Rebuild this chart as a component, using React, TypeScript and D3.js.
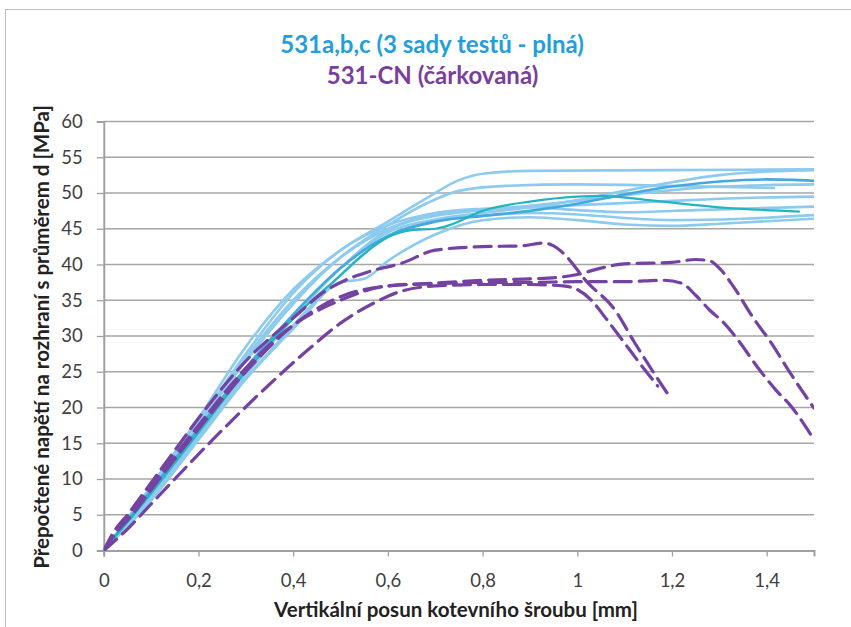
import React, { useEffect, useRef } from "react";
import * as d3 from "d3";

type Pt = [number, number];

// ---- Data (x: mm, y: MPa) ----
const xTicks = [0, 0.2, 0.4, 0.6, 0.8, 1, 1.2, 1.4];
const xTickLabels = ["0", "0,2", "0,4", "0,6", "0,8", "1", "1,2", "1,4"];
const yTicks = [0, 5, 10, 15, 20, 25, 30, 35, 40, 45, 50, 55, 60];

const solidA: Pt[] = [[0,0],[0.05,4],[0.1,9],[0.2,18.5],[0.3,28.5],[0.4,36.5],[0.5,42],[0.6,46],[0.68,49.2],[0.75,51.8],[0.8,52.7],[0.9,53.1],[1.2,53.2],[1.5,53.3]];
const solidB: Pt[] = [[0,0],[0.1,8.5],[0.2,17.5],[0.3,26.5],[0.4,34.5],[0.5,41],[0.6,45.5],[0.68,48.5],[0.75,50.3],[0.85,51],[1.0,51.2],[1.2,51],[1.418,50.7]];
const solidC: Pt[] = [[0,0],[0.1,7.5],[0.2,16],[0.3,24.5],[0.4,32.5],[0.5,39.5],[0.6,44.8],[0.7,46.8],[0.8,47.6],[0.9,48.2],[1.0,48.9],[1.1,49.7],[1.2,50.4],[1.3,50.9],[1.5,51.2]];
const solidD: Pt[] = [[0,0],[0.1,8],[0.2,17],[0.3,25.5],[0.4,33],[0.5,39.5],[0.6,44.5],[0.7,46.3],[0.8,47.2],[0.9,48],[1.0,49],[1.1,50.3],[1.2,51.5],[1.3,52.5],[1.4,53],[1.5,53.2]];
const solidE: Pt[] = [[0,0],[0.1,9],[0.2,18],[0.3,27],[0.4,35],[0.5,41],[0.6,45],[0.7,47],[0.8,47.6],[0.9,48],[1.0,48.3],[1.2,48.9],[1.35,49.3],[1.5,49.5]];
const solidF: Pt[] = [[0,0],[0.1,8.5],[0.2,18],[0.3,27.5],[0.4,36],[0.5,42],[0.6,45.5],[0.7,47.2],[0.8,47.8],[0.9,48],[1.0,47.6],[1.1,47.3],[1.25,47.6],[1.5,48.1]];
const solidG: Pt[] = [[0,0],[0.1,7],[0.2,15.5],[0.3,24],[0.4,31.5],[0.5,38.5],[0.6,44],[0.7,46],[0.8,46.8],[0.9,47.2],[1.0,47],[1.1,46.5],[1.2,46.2],[1.35,46.4],[1.5,46.9]];
const solidH: Pt[] = [[0,0],[0.1,7.5],[0.2,16],[0.3,24],[0.4,31],[0.5,37.5],[0.55,38],[0.6,40.5],[0.7,44.2],[0.8,46.2],[0.9,46.6],[1.0,46.2],[1.1,45.6],[1.2,45.4],[1.3,45.7],[1.5,46.4]];
const solidDark: Pt[] = [[0,0],[0.1,8.5],[0.2,17],[0.3,25.5],[0.4,33],[0.5,39.5],[0.6,44],[0.7,46],[0.8,46.8],[0.9,47.5],[1.0,48.5],[1.1,49.8],[1.2,50.9],[1.3,51.6],[1.4,51.9],[1.5,51.7]];
const solidTeal: Pt[] = [[0,0],[0.1,8],[0.2,16.5],[0.3,25],[0.4,32.5],[0.5,38.5],[0.55,41.5],[0.6,43.8],[0.65,44.8],[0.7,45],[0.73,45.5],[0.8,47.5],[0.9,48.8],[1.0,49.5],[1.05,49.6],[1.15,49],[1.3,48],[1.47,47.4]];

const dashed1: Pt[] = [[0,0],[0.02,2.5],[0.05,5],[0.1,9.5],[0.15,14],[0.2,18.5],[0.3,26.5],[0.4,32.5],[0.47,36.4],[0.51,37.8],[0.56,39],[0.63,40.2],[0.7,42],[0.8,42.5],[0.88,42.6],[0.93,43],[0.95,42.6],[0.97,41.6],[1.02,37.6],[1.08,33.6],[1.12,29.2],[1.16,25],[1.19,22]];
const dashed2: Pt[] = [[0,0],[0.02,2],[0.06,5],[0.1,8.5],[0.2,17],[0.3,25],[0.4,31.5],[0.5,35.5],[0.6,37],[0.7,37.4],[0.8,37.8],[0.9,38],[0.96,38.2],[1.0,38.6],[1.05,39.5],[1.1,40.1],[1.2,40.3],[1.25,40.7],[1.28,40.5],[1.3,39.5],[1.33,36.9],[1.37,32.7],[1.41,29],[1.45,24.8],[1.5,19.9]];
const dashed3: Pt[] = [[0,0],[0.03,3],[0.1,9],[0.2,17.5],[0.3,25.5],[0.4,31.5],[0.5,35],[0.6,37],[0.7,37.3],[0.8,37.5],[0.9,37.5],[1.0,37.6],[1.1,37.6],[1.18,37.8],[1.22,37.4],[1.25,35.7],[1.28,33.6],[1.31,31.8],[1.34,29.4],[1.38,25.7],[1.42,22.4],[1.45,20.3],[1.5,15.5]];
const dashed4: Pt[] = [[0,0],[0.05,3],[0.1,6.5],[0.15,10],[0.23,15.5],[0.33,22],[0.43,28],[0.5,31.8],[0.57,34.6],[0.625,36.2],[0.7,37],[0.8,37.2],[0.9,37.2],[0.97,37],[1.0,36.5],[1.03,35],[1.06,32.5],[1.1,29],[1.14,25.5],[1.17,23]];

const lightSeries = [solidA, solidB, solidC, solidD, solidE, solidF, solidG, solidH];
const dashedSeries = [dashed1, dashed2, dashed3, dashed4];

const title1 = "531a,b,c (3 sady testů - plná)";
const title2 = "531-CN (čárkovaná)";
const yLabel = "Přepočtené napětí na rozhraní s průměrem d [MPa]";
const xLabel = "Vertikální posun kotevního šroubu [mm]";

const W = 851, H = 627;
const M = { left: 103.8, right: 814, top: 121.5, bottom: 550.5 };
const FONT = "Lato, 'Open Sans', sans-serif";

export default function App() {
  const ref = useRef<SVGSVGElement>(null);
  useEffect(() => {
    const svg = d3.select(ref.current);
    svg.selectAll("*").remove();
    const x = d3.scaleLinear().domain([0, 1.5]).range([M.left, M.right]);
    const y = d3.scaleLinear().domain([0, 60]).range([M.bottom, M.top]);

    svg.append("rect").attr("x", 0).attr("y", 0).attr("width", W).attr("height", H).attr("fill", "#fff");
    svg.append("rect").attr("x", 5.5).attr("y", 9.5).attr("width", 900).attr("height", 700)
      .attr("fill", "none").attr("stroke", "#bfbfbf").attr("stroke-width", 1);

    // gridlines
    svg.append("g").selectAll("line").data(yTicks.filter(t => t > 0)).join("line")
      .attr("x1", M.left).attr("x2", M.right)
      .attr("y1", d => y(d)).attr("y2", d => y(d))
      .attr("stroke", "#a6a6a6").attr("stroke-width", 1.3);

    // axes
    const yAxis = svg.append("g").attr("transform", `translate(${M.left},0)`)
      .call(d3.axisLeft(y).tickValues(yTicks).tickSize(7).tickPadding(14).tickFormat(d => String(d)));
    yAxis.select(".domain").attr("stroke", "#a0a0a0").attr("stroke-width", 2);
    yAxis.selectAll(".tick line").attr("stroke", "#a0a0a0").attr("stroke-width", 1.3);
    yAxis.selectAll("text").attr("fill", "#404040").attr("font-size", 18.5).attr("font-family", FONT);

    const xAxis = svg.append("g").attr("transform", `translate(0,${M.bottom})`)
      .call(d3.axisBottom(x).tickValues(xTicks).tickSize(6)
        .tickFormat((d, i) => xTickLabels[i]));
    xAxis.select(".domain").attr("stroke", "#a0a0a0").attr("stroke-width", 2);
    xAxis.selectAll(".tick line").attr("stroke", "#a0a0a0").attr("stroke-width", 1.3);
    xAxis.selectAll("text").attr("fill", "#404040").attr("font-size", 18.5).attr("font-family", FONT)
      .attr("y", 36).attr("dy", 0);

    const clip = svg.append("clipPath").attr("id", "plotclip");
    clip.append("rect").attr("x", M.left).attr("y", M.top - 10).attr("width", M.right - M.left).attr("height", M.bottom - M.top + 10);

    const line = d3.line<Pt>().x(d => x(d[0])).y(d => y(d[1])).curve(d3.curveMonotoneX);
    const g = svg.append("g").attr("clip-path", "url(#plotclip)");

    g.selectAll("path.light").data(lightSeries).join("path").attr("class", "light")
      .attr("d", d => line(d)).attr("fill", "none")
      .attr("stroke", "#8ccbee").attr("stroke-width", 2.6).attr("stroke-linejoin", "round");
    g.append("path").attr("d", line(solidDark)).attr("fill", "none")
      .attr("stroke", "#45a9de").attr("stroke-width", 2.6);
    g.append("path").attr("d", line(solidTeal)).attr("fill", "none")
      .attr("stroke", "#22b5c0").attr("stroke-width", 2.2);

    g.selectAll("path.dash").data(dashedSeries).join("path").attr("class", "dash")
      .attr("d", d => line(d)).attr("fill", "none")
      .attr("stroke", "#7442a2").attr("stroke-width", 3.2)
      .attr("stroke-dasharray", "17,8").attr("stroke-linecap", "round");

    // titles
    svg.append("text").attr("x", 432).attr("y", 53).attr("text-anchor", "middle")
      .attr("font-family", FONT).attr("font-weight", "bold").attr("font-size", 24)
      .attr("fill", "#1fa0dc").text(title1);
    svg.append("text").attr("x", 432.5).attr("y", 84).attr("text-anchor", "middle")
      .attr("font-family", FONT).attr("font-weight", "bold").attr("font-size", 24)
      .attr("fill", "#7a3e9e").text(title2);

    svg.append("text").attr("transform", `translate(49,${(M.top + M.bottom) / 2 + 1}) rotate(-90)`)
      .attr("text-anchor", "middle").attr("font-family", FONT).attr("font-weight", "bold")
      .attr("font-size", 20.5).attr("fill", "#222").text(yLabel);
    svg.append("text").attr("x", 456).attr("y", 616.5).attr("text-anchor", "middle")
      .attr("font-family", FONT).attr("font-weight", "bold").attr("font-size", 20.5)
      .attr("fill", "#222").text(xLabel);
  }, []);
  return (
    <svg ref={ref} width={W} height={H} style={{ position: "absolute", left: 0, top: 0, display: "block" }} />
  );
}
